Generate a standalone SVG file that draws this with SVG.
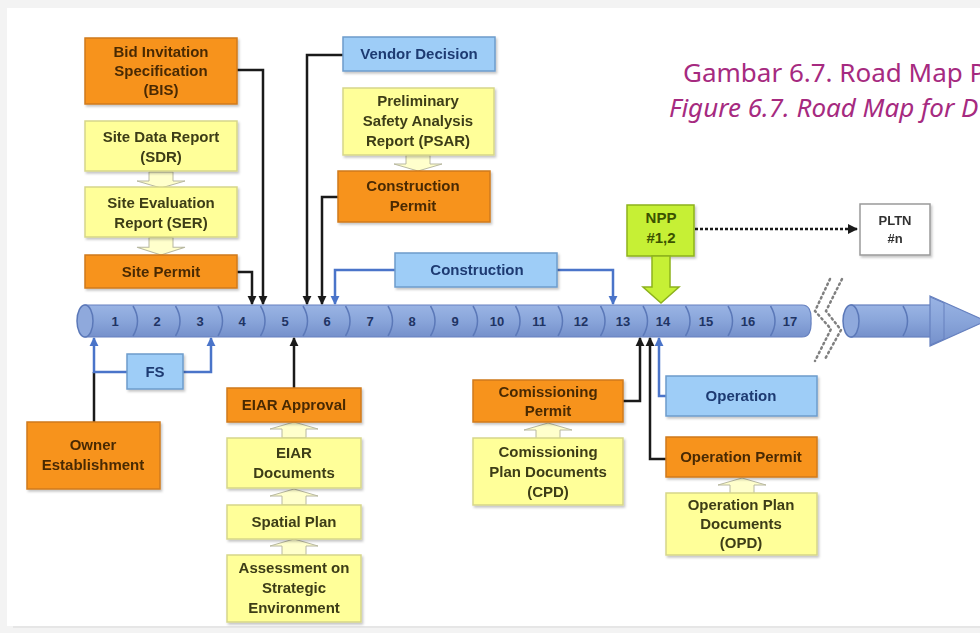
<svg xmlns="http://www.w3.org/2000/svg" xmlns:xlink="http://www.w3.org/1999/xlink" width="980" height="633" viewBox="0 0 980 633">
<style>
.box{stroke-width:1.5}
.or{fill:#f7931e;stroke:#d07a1c}
.ye{fill:#ffff99;stroke:#d6d68a}
.bl{fill:#9ecdf7;stroke:#6d9ccc}
.gr{fill:#c6f035;stroke:#8db21c}
.wh{fill:#ffffff;stroke:#9a9a9a}
text{font-family:"Liberation Sans",Arial,sans-serif;font-weight:bold;font-size:15px;text-anchor:middle}
.tor{fill:#4a2a05}
.tye{fill:#3d3d18}
.tbl{fill:#1f3a72}
.tgr{fill:#3b5200}
.twh{fill:#333333;font-size:13px}
.num{fill:#1f3464;font-size:13px}
.title{font-family:"Noto Sans","Open Sans",sans-serif;font-weight:normal;font-size:26px;fill:#a62a80;text-anchor:start}
.blk{fill:none;stroke:#1a1a1a;stroke-width:2.5}
.blu{fill:none;stroke:#4a74c9;stroke-width:2.5}
.pale{fill:#ffffcc;stroke:#b8b8a0;stroke-width:1}
.div{fill:none;stroke:#5b78b8;stroke-width:1.5}
</style>
<defs>
<filter id="sh" x="-10%" y="-10%" width="130%" height="140%">
<feDropShadow dx="1.5" dy="2" stdDeviation="1.2" flood-color="#000" flood-opacity="0.22"/>
</filter>
<linearGradient id="cyl" x1="0" y1="0" x2="0" y2="1">
<stop offset="0" stop-color="#9ab4e4"/>
<stop offset="0.5" stop-color="#89a5da"/>
<stop offset="1" stop-color="#7590cb"/>
</linearGradient>
<marker id="ab" viewBox="0 0 10 10" refX="9" refY="5" markerUnits="userSpaceOnUse" markerWidth="9" markerHeight="10" orient="auto">
<path d="M0,0 L10,5 L0,10 Z" fill="#1a1a1a"/>
</marker>
<marker id="au" viewBox="0 0 10 10" refX="9" refY="5" markerUnits="userSpaceOnUse" markerWidth="9" markerHeight="10" orient="auto">
<path d="M0,0 L10,5 L0,10 Z" fill="#4a74c9"/>
</marker>
<marker id="ad" viewBox="0 0 10 10" refX="9" refY="5" markerUnits="userSpaceOnUse" markerWidth="10" markerHeight="10" orient="auto">
<path d="M0,0 L10,5 L0,10 Z" fill="#1a1a1a"/>
</marker>
<path id="up" class="pale" d="M0,0 L24,7 L12,7 L12,16 L-12,16 L-12,7 L-24,7 Z"/>
</defs>

<!-- background -->
<rect x="0" y="0" width="980" height="633" fill="#f3f3f3"/>
<rect x="7" y="8" width="973" height="618" fill="#ffffff"/>
<rect x="13" y="626" width="967" height="2" fill="#e6e6e6"/>

<!-- title -->
<g id="title">
<text class="title" x="683" y="82">Gambar 6.7. Road Map P</text>
<text class="title" x="669" y="117" font-style="italic">Figure 6.7. Road Map for D</text>
</g>

<!-- timeline -->
<g id="timeline">
<path d="M85,305 H802 Q812,305 811,321 Q812,337 802,337 H85 Z" fill="url(#cyl)" stroke="#6680bf" stroke-width="1.2"/>
<ellipse cx="85" cy="321" rx="8" ry="16" fill="#8fa9dc" stroke="#5b78b8" stroke-width="1.5"/>
<path class="div" d="M133,306 Q142,321 133,336 M175.5,306 Q184.5,321 175.5,336 M218,306 Q227,321 218,336 M260.5,306 Q269.5,321 260.5,336 M303,306 Q312,321 303,336 M345.5,306 Q354.5,321 345.5,336 M388,306 Q397,321 388,336 M430.5,306 Q439.5,321 430.5,336 M473,306 Q482,321 473,336 M515.5,306 Q524.5,321 515.5,336 M558,306 Q567,321 558,336 M600.5,306 Q609.5,321 600.5,336 M643,306 Q652,321 643,336 M685.5,306 Q694.5,321 685.5,336 M728,306 Q737,321 728,336 M770.5,306 Q779.5,321 770.5,336"/>
<text class="num" x="115" y="326">1</text>
<text class="num" x="157" y="326">2</text>
<text class="num" x="200" y="326">3</text>
<text class="num" x="242" y="326">4</text>
<text class="num" x="285" y="326">5</text>
<text class="num" x="327" y="326">6</text>
<text class="num" x="370" y="326">7</text>
<text class="num" x="412" y="326">8</text>
<text class="num" x="455" y="326">9</text>
<text class="num" x="497" y="326">10</text>
<text class="num" x="539" y="326">11</text>
<text class="num" x="581" y="326">12</text>
<text class="num" x="623" y="326">13</text>
<text class="num" x="663" y="326">14</text>
<text class="num" x="706" y="326">15</text>
<text class="num" x="748" y="326">16</text>
<text class="num" x="790" y="326">17</text>
<!-- break marks -->
<polyline points="830,279 815,311 831,329 815,361" fill="none" stroke="#808080" stroke-width="2.5" stroke-dasharray="1.5,3.5" stroke-linecap="round"/>
<polyline points="842,279 826,311 841,330 825,359" fill="none" stroke="#808080" stroke-width="2.5" stroke-dasharray="1.5,3.5" stroke-linecap="round"/>
<!-- continuation arrow -->
<rect x="851" y="305" width="82" height="32" fill="url(#cyl)" stroke="#6680bf" stroke-width="1.2"/>
<polygon points="930,296 986,321 930,346" fill="url(#cyl)" stroke="#6680bf" stroke-width="1.2"/>
<path d="M930,297 L944,303 L944,339 L930,345" fill="none" stroke="#6680bf" stroke-width="1"/>
<ellipse cx="851" cy="321" rx="8" ry="16" fill="#8fa9dc" stroke="#5b78b8" stroke-width="1.5"/>
<path class="div" d="M903,306 Q912,321 903,336"/>
</g>

<!-- connectors -->
<g id="connectors">
<polyline class="blk" points="237,70 263,70 263,304" marker-end="url(#ab)"/>
<polyline class="blk" points="237,272 252,272 252,304" marker-end="url(#ab)"/>
<polyline class="blk" points="343,55 307,55 307,304" marker-end="url(#ab)"/>
<polyline class="blk" points="338,197 322,197 322,304" marker-end="url(#ab)"/>
<polyline class="blu" points="395,270 335,270 335,304" marker-end="url(#au)"/>
<polyline class="blu" points="557,270 613,270 613,304" marker-end="url(#au)"/>
<polyline class="blk" points="695,229 857,229" stroke-dasharray="3,2" marker-end="url(#ad)"/>
<polyline class="blk" points="94,422 94,372"/>
<polyline class="blu" points="127,372 94,372 94,338" marker-end="url(#au)"/>
<polyline class="blu" points="183,372 211,372 211,338" marker-end="url(#au)"/>
<polyline class="blk" points="294,388 294,338" marker-end="url(#ab)"/>
<polyline class="blk" points="623,401 640,401 640,338" marker-end="url(#ab)"/>
<polyline class="blk" points="666,459 650,459 650,338" marker-end="url(#ab)"/>
<polyline class="blu" points="666,396 659,396 659,338" marker-end="url(#au)"/>
<!-- pale flow arrows -->
<use xlink:href="#up" href="#up" transform="translate(161,188) rotate(180)"/>
<use xlink:href="#up" href="#up" transform="translate(161,255) rotate(180) scale(1,1.1)"/>
<use xlink:href="#up" href="#up" transform="translate(418,171) rotate(180)"/>
<use xlink:href="#up" href="#up" transform="translate(294,422)"/>
<use xlink:href="#up" href="#up" transform="translate(294,489)"/>
<use xlink:href="#up" href="#up" transform="translate(294,539)"/>
<use xlink:href="#up" href="#up" transform="translate(548,423)"/>
<use xlink:href="#up" href="#up" transform="translate(742,478)"/>
</g>

<!-- nodes -->
<g id="bis" filter="url(#sh)">
<rect class="box or" x="85" y="38" width="152" height="66"/>
<text class="tor" x="161" y="57">Bid Invitation</text>
<text class="tor" x="161" y="76">Specification</text>
<text class="tor" x="161" y="95">(BIS)</text>
</g>
<g id="sdr" filter="url(#sh)">
<rect class="box ye" x="85" y="121" width="152" height="50"/>
<text class="tye" x="161" y="142">Site Data Report</text>
<text class="tye" x="161" y="162">(SDR)</text>
</g>
<g id="ser" filter="url(#sh)">
<rect class="box ye" x="85" y="187" width="152" height="50"/>
<text class="tye" x="161" y="208">Site Evaluation</text>
<text class="tye" x="161" y="228">Report (SER)</text>
</g>
<g id="site-permit" filter="url(#sh)">
<rect class="box or" x="85" y="255" width="152" height="33"/>
<text class="tor" x="161" y="277">Site Permit</text>
</g>
<g id="vendor" filter="url(#sh)">
<rect class="box bl" x="343" y="37" width="152" height="34"/>
<text class="tbl" x="419" y="59">Vendor Decision</text>
</g>
<g id="psar" filter="url(#sh)">
<rect class="box ye" x="343" y="88" width="151" height="67"/>
<text class="tye" x="418" y="106">Preliminary</text>
<text class="tye" x="418" y="126">Safety Analysis</text>
<text class="tye" x="418" y="146">Report (PSAR)</text>
</g>
<g id="construction-permit" filter="url(#sh)">
<rect class="box or" x="338" y="171" width="152" height="51"/>
<text class="tor" x="413" y="191">Construction</text>
<text class="tor" x="413" y="211">Permit</text>
</g>
<g id="construction" filter="url(#sh)">
<rect class="box bl" x="395" y="253" width="162" height="34"/>
<text class="tbl" x="477" y="275">Construction</text>
</g>
<g id="npp">
<rect class="box gr" x="627" y="205" width="67" height="51" filter="url(#sh)"/>
<polygon class="gr" stroke-width="1.5" points="652,256 670,256 670,287 679,287 661,303 643,287 652,287"/>
<text class="tgr" x="661" y="223" font-size="13">NPP</text>
<text class="tgr" x="661" y="243" font-size="13">#1,2</text>
</g>
<g id="pltn" filter="url(#sh)">
<rect class="box wh" x="860" y="204" width="70" height="51"/>
<text class="twh" x="895" y="225">PLTN</text>
<text class="twh" x="895" y="243">#n</text>
</g>
<g id="fs" filter="url(#sh)">
<rect class="box bl" x="127" y="354" width="56" height="35"/>
<text class="tbl" x="155" y="377">FS</text>
</g>
<g id="owner" filter="url(#sh)">
<rect class="box or" x="27" y="422" width="133" height="67"/>
<text class="tor" x="93" y="450">Owner</text>
<text class="tor" x="93" y="470">Establishment</text>
</g>
<g id="eiar-approval" filter="url(#sh)">
<rect class="box or" x="227" y="388" width="134" height="34"/>
<text class="tor" x="294" y="410">EIAR Approval</text>
</g>
<g id="eiar-docs" filter="url(#sh)">
<rect class="box ye" x="227" y="438" width="134" height="50"/>
<text class="tye" x="294" y="458">EIAR</text>
<text class="tye" x="294" y="478">Documents</text>
</g>
<g id="spatial" filter="url(#sh)">
<rect class="box ye" x="227" y="505" width="134" height="34"/>
<text class="tye" x="294" y="527">Spatial Plan</text>
</g>
<g id="assessment" filter="url(#sh)">
<rect class="box ye" x="227" y="555" width="134" height="67"/>
<text class="tye" x="294" y="573">Assessment on</text>
<text class="tye" x="294" y="593">Strategic</text>
<text class="tye" x="294" y="613">Environment</text>
</g>
<g id="comissioning-permit" filter="url(#sh)">
<rect class="box or" x="473" y="380" width="150" height="42"/>
<text class="tor" x="548" y="397">Comissioning</text>
<text class="tor" x="548" y="416">Permit</text>
</g>
<g id="cpd" filter="url(#sh)">
<rect class="box ye" x="473" y="438" width="150" height="67"/>
<text class="tye" x="548" y="457">Comissioning</text>
<text class="tye" x="548" y="477">Plan Documents</text>
<text class="tye" x="548" y="497">(CPD)</text>
</g>
<g id="operation" filter="url(#sh)">
<rect class="box bl" x="666" y="376" width="151" height="40"/>
<text class="tbl" x="741" y="401">Operation</text>
</g>
<g id="operation-permit" filter="url(#sh)">
<rect class="box or" x="666" y="437" width="151" height="40"/>
<text class="tor" x="741" y="462">Operation Permit</text>
</g>
<g id="opd" filter="url(#sh)">
<rect class="box ye" x="666" y="493" width="151" height="62"/>
<text class="tye" x="741" y="510">Operation Plan</text>
<text class="tye" x="741" y="529">Documents</text>
<text class="tye" x="741" y="548">(OPD)</text>
</g>
</svg>
